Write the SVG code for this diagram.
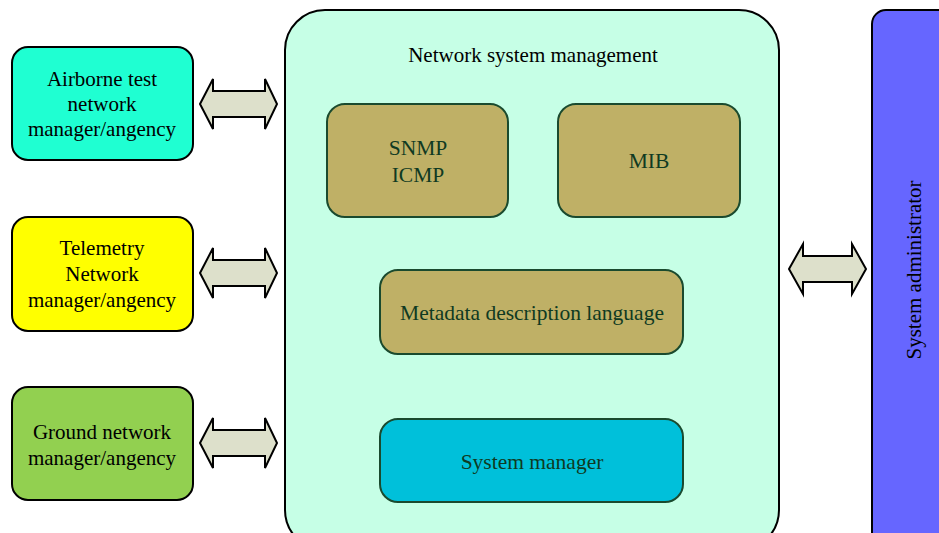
<svg xmlns="http://www.w3.org/2000/svg" width="939" height="533" viewBox="0 0 939 533">
<defs>
<style>
.box{stroke:#000;stroke-width:2}
.inner{stroke:#1A4A2E;stroke-width:2}
.t{font-family:"Liberation Serif","Times New Roman",serif;font-size:21px;text-anchor:middle;fill:#000}
.ti{font-family:"Liberation Serif","Times New Roman",serif;font-size:21.5px;text-anchor:middle;fill:#0F3A22}
.arr{fill:#DDE0CB;stroke:#000;stroke-width:2;stroke-linejoin:miter}
</style>
</defs>
<rect width="939" height="533" fill="#fff"/>
<g id="nsm">
<rect class="box" x="285" y="10" width="494" height="540" rx="40" fill="#C6FFE6"/>
<text class="t" x="533" y="62" font-size="21.5">Network system management</text>
</g>
<g id="snmp">
<rect class="inner" x="327" y="104" width="181" height="113" rx="18" fill="#BFB066"/>
<text class="ti" x="418" y="155">SNMP</text>
<text class="ti" x="418" y="182">ICMP</text>
</g>
<g id="mib">
<rect class="inner" x="558" y="104" width="182" height="113" rx="18" fill="#BFB066"/>
<text class="ti" x="649" y="168">MIB</text>
</g>
<g id="metadata">
<rect class="inner" x="380" y="270" width="303" height="84" rx="18" fill="#BFB066"/>
<text class="ti" x="532" y="320">Metadata description language</text>
</g>
<g id="sysmgr">
<rect class="inner" x="380" y="419" width="303" height="83" rx="18" fill="#00C0DA"/>
<text class="ti" x="532" y="469">System manager</text>
</g>
<g id="airborne">
<rect class="box" x="12" y="47" width="181" height="113" rx="16" fill="#1FFFD2"/>
<text class="t" x="102" y="86">Airborne test</text>
<text class="t" x="102" y="111">network</text>
<text class="t" x="102" y="136">manager/angency</text>
</g>
<g id="telemetry">
<rect class="box" x="12" y="217" width="181" height="114" rx="16" fill="#FFFF00"/>
<text class="t" x="102" y="255">Telemetry</text>
<text class="t" x="102" y="281">Network</text>
<text class="t" x="102" y="307">manager/angency</text>
</g>
<g id="ground">
<rect class="box" x="12" y="387" width="181" height="113" rx="16" fill="#92D050"/>
<text class="t" x="102" y="439">Ground network</text>
<text class="t" x="102" y="465">manager/angency</text>
</g>
<g id="admin">
<rect class="box" x="872" y="10" width="90" height="540" rx="14" fill="#6666FF"/>
<text class="t" transform="translate(921,270) rotate(-90)" x="0" y="0" font-size="20.5">System administrator</text>
</g>
<g id="connectors">
<polygon class="arr" points="200,104 213,79 213,91 265,91 265,79 277,104 265,129 265,117 213,117 213,129"/>
<polygon class="arr" points="200,273 213,248 213,260 265,260 265,248 277,273 265,298 265,286 213,286 213,298"/>
<polygon class="arr" points="200,443 213,418 213,430 265,430 265,418 277,443 265,468 265,456 213,456 213,468"/>
<polygon class="arr" points="789,269 803,244 803,256 852,256 852,244 866,269 852,294 852,282 803,282 803,294"/>
</g>
</svg>
